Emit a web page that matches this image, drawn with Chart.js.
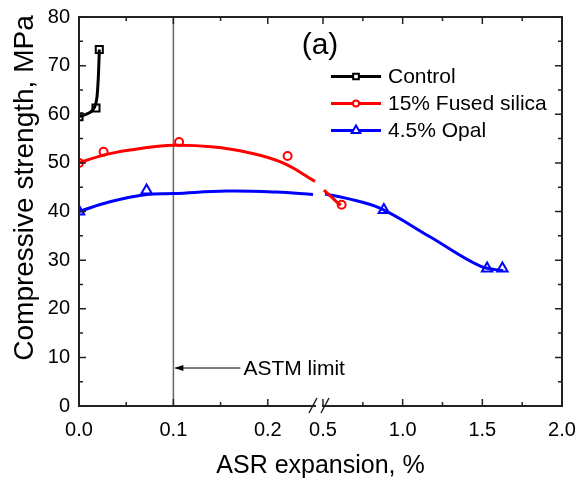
<!DOCTYPE html>
<html>
<head>
<meta charset="utf-8">
<script src="https://cdn.jsdelivr.net/npm/chart.js@4"></script>
<style>
  body { margin: 0; background: #fff; }
  #wrap { width: 577px; height: 486px; }
</style>
</head>
<body>
<div id="wrap"><canvas id="asr"></canvas></div>
<script>
const seriesNames = ['Control', '15% Fused silica', '4.5% Opal'];
const seriesColors = ['#000000', '#ff0000', '#0000ff'];
const seriesMarkers = ['rect', 'circle', 'triangle'];
const markerRadius = [5, 4, 6];

// measured points
const controlX = [0.0, 0.018, 0.0215];
const controlY = [59.5, 61.3, 73.3];
const silicaX = [0.0, 0.026, 0.106, 0.221, 0.617];
const silicaY = [50.0, 52.3, 54.3, 51.4, 41.4];
const opalX = [0.0, 0.0716, 0.882, 1.530, 1.626];
const opalY = [40.0, 44.3, 40.3, 28.3, 28.3];

// fitted curves (left part / right part of the broken axis)
const controlFitX = [0.0, 0.0063, 0.0138, 0.018, 0.020, 0.0212, 0.0215];
const controlFitY = [59.5, 59.9, 60.7, 62.3, 66.0, 71.2, 73.3];
const silicaFitLeftX = [0.0, 0.03, 0.07, 0.1, 0.14, 0.18, 0.216, 0.25];
const silicaFitLeftY = [50.0, 51.8, 53.1, 53.6, 53.3, 52.1, 50.0, 46.2];
const silicaFitRightX = [0.506, 0.546, 0.586, 0.612];
const silicaFitRightY = [44.4, 43.2, 42.0, 41.3];
const opalFitLeftX = [0.0, 0.0328, 0.0716, 0.1008, 0.1563, 0.2092, 0.248];
const opalFitLeftY = [40.0, 42.0, 43.5, 43.7, 44.2, 44.0, 43.5];
const opalFitRightX = [0.513, 0.649, 0.857, 1.171, 1.484, 1.630];
const opalFitRightY = [43.6, 42.7, 40.7, 34.8, 28.8, 27.8];

// axis
const xTickValues = [0, 0.1, 0.2, 0.5, 1.0, 1.5, 2.0];
const xTickLabels = ['0.0', '0.1', '0.2', '0.5', '1.0', '1.5', '2.0'];
const xMinorValues = [0.05, 0.15, 0.75, 1.25, 1.75];
const astmLimit = 0.1;

// broken x axis: 0-0.25 then 0.5-2.0
const breakLow = 0.25, breakHigh = 0.5;
const gapWidth = 0.0085, rightFactor = 0.1688;
function toAxis(x) {
  return x <= breakLow ? x : breakLow + gapWidth + (x - breakHigh) * rightFactor;
}
function pts(xs, ys) {
  return xs.map((x, i) => ({ x: toAxis(x), y: ys[i] }));
}
function broken(lx, ly, rx, ry) {
  return pts(lx, ly).concat([{ x: toAxis(breakLow) + gapWidth / 2, y: null }], pts(rx, ry));
}

const font = "'Liberation Sans', Arial, sans-serif";

function curve(data, i) {
  return {
    label: seriesNames[i] + ' fit',
    data: data,
    showLine: true,
    borderColor: seriesColors[i],
    borderWidth: 3,
    pointRadius: 0,
    tension: 0.4,
    spanGaps: false
  };
}
function markers(data, i) {
  return {
    label: seriesNames[i],
    data: data,
    showLine: false,
    pointStyle: seriesMarkers[i],
    pointRadius: markerRadius[i],
    pointBorderWidth: 2,
    pointBorderColor: seriesColors[i],
    pointBackgroundColor: '#ffffff'
  };
}

function drawMarker(ctx, style, r, x, y, color) {
  ctx.save();
  ctx.strokeStyle = color;
  ctx.fillStyle = '#fff';
  ctx.lineWidth = 2;
  ctx.beginPath();
  if (style === 'rect') {
    const s = r * Math.SQRT1_2;
    ctx.rect(x - s, y - s, 2 * s, 2 * s);
  } else if (style === 'circle') {
    ctx.arc(x, y, r, 0, Math.PI * 2);
  } else {
    ctx.moveTo(x, y - r);
    ctx.lineTo(x + r * 0.866, y + r * 0.5);
    ctx.lineTo(x - r * 0.866, y + r * 0.5);
    ctx.closePath();
  }
  ctx.fill();
  ctx.stroke();
  ctx.restore();
}

const decorations = {
  id: 'decorations',
  beforeDatasetsDraw(chart) {
    const { ctx, chartArea: a, scales: { x } } = chart;
    const px = x.getPixelForValue(toAxis(astmLimit));
    ctx.save();
    ctx.strokeStyle = '#666';
    ctx.lineWidth = 1.5;
    ctx.beginPath();
    ctx.moveTo(px, a.top);
    ctx.lineTo(px, a.bottom);
    ctx.stroke();
    ctx.restore();
  },
  afterDraw(chart) {
    const { ctx, chartArea: a, scales: { x, y } } = chart;
    ctx.save();
    ctx.strokeStyle = '#222';
    ctx.lineWidth = 2;
    // frame with break in bottom axis
    const gapL = x.getPixelForValue(toAxis(breakLow)) + 1;
    const gapR = x.getPixelForValue(toAxis(breakHigh)) - 1;
    ctx.beginPath();
    ctx.moveTo(gapL, a.bottom);
    ctx.lineTo(a.left, a.bottom);
    ctx.lineTo(a.left, a.top);
    ctx.lineTo(a.right, a.top);
    ctx.lineTo(a.right, a.bottom);
    ctx.lineTo(gapR, a.bottom);
    ctx.stroke();
    // break marks
    ctx.lineWidth = 1.5;
    [gapL - 3, gapR + 3].forEach(cx => {
      ctx.beginPath();
      ctx.moveTo(cx - 4, a.bottom + 7);
      ctx.lineTo(cx + 4, a.bottom - 8);
      ctx.stroke();
    });
    // inward ticks
    ctx.lineWidth = 1.5;
    ctx.beginPath();
    for (let v = 0; v <= 80; v += 5) {
      const py = y.getPixelForValue(v);
      const len = v % 10 === 0 ? 7 : 4;
      ctx.moveTo(a.left, py); ctx.lineTo(a.left + len, py);
      ctx.moveTo(a.right, py); ctx.lineTo(a.right - len, py);
    }
    xTickValues.forEach(v => {
      const p = x.getPixelForValue(toAxis(v));
      ctx.moveTo(p, a.bottom); ctx.lineTo(p, a.bottom - 7);
      ctx.moveTo(p, a.top); ctx.lineTo(p, a.top + 7);
    });
    xMinorValues.forEach(v => {
      const p = x.getPixelForValue(toAxis(v));
      ctx.moveTo(p, a.bottom); ctx.lineTo(p, a.bottom - 4);
      ctx.moveTo(p, a.top); ctx.lineTo(p, a.top + 4);
    });
    ctx.stroke();

    // ASTM annotation
    const lx = x.getPixelForValue(toAxis(astmLimit));
    const ay = a.bottom - 38;
    ctx.strokeStyle = '#000';
    ctx.fillStyle = '#000';
    ctx.lineWidth = 1;
    ctx.beginPath();
    ctx.moveTo(lx + 2, ay); ctx.lineTo(lx + 67, ay);
    ctx.stroke();
    ctx.beginPath();
    ctx.moveTo(lx + 1, ay); ctx.lineTo(lx + 10, ay - 3); ctx.lineTo(lx + 10, ay + 3);
    ctx.closePath(); ctx.fill();
    ctx.font = '21px ' + font;
    ctx.textBaseline = 'middle';
    ctx.textAlign = 'left';
    ctx.fillText('ASTM limit', lx + 70, ay + 1);

    // panel label
    ctx.font = '30px ' + font;
    ctx.textAlign = 'center';
    ctx.fillText('(a)', 320, 46);

    // legend
    const ly = [76.5, 103.5, 130.5];
    seriesNames.forEach((name, i) => {
      ctx.strokeStyle = seriesColors[i];
      ctx.lineWidth = 3;
      ctx.beginPath();
      ctx.moveTo(331, ly[i]); ctx.lineTo(381, ly[i]);
      ctx.stroke();
      drawMarker(ctx, seriesMarkers[i], markerRadius[i] - 1, 356, ly[i], seriesColors[i]);
      ctx.fillStyle = '#000';
      ctx.font = '21px ' + font;
      ctx.textAlign = 'left';
      ctx.fillText(name, 388, ly[i] + 1);
    });

    // axis titles
    ctx.font = '25px ' + font;
    ctx.textAlign = 'center';
    ctx.fillText('ASR expansion, %', (a.left + a.right) / 2, 466);
    ctx.font = '28px ' + font;
    ctx.translate(25, 188);
    ctx.rotate(-Math.PI / 2);
    ctx.fillText('Compressive strength, MPa', 0, 0);
    ctx.restore();
  }
};

new Chart(document.getElementById('asr'), {
  type: 'scatter',
  data: {
    datasets: [
      curve(pts(controlFitX, controlFitY), 0),
      curve(broken(silicaFitLeftX, silicaFitLeftY, silicaFitRightX, silicaFitRightY), 1),
      curve(broken(opalFitLeftX, opalFitLeftY, opalFitRightX, opalFitRightY), 2),
      markers(pts(controlX, controlY), 0),
      markers(pts(silicaX, silicaY), 1),
      markers(pts(opalX, opalY), 2)
    ]
  },
  options: {
    responsive: true,
    maintainAspectRatio: false,
    animation: false,
    layout: { padding: { top: 17, right: 15, left: 0, bottom: 0 } },
    plugins: { legend: { display: false }, tooltip: { enabled: false } },
    scales: {
      x: {
        type: 'linear',
        min: 0,
        max: toAxis(2.0),
        afterBuildTicks: s => { s.ticks = xTickValues.map(v => ({ value: toAxis(v) })); },
        afterFit: s => { s.height = 80; s.paddingLeft = 0; s.paddingRight = 0; },
        grid: { display: false, drawTicks: false },
        border: { display: false },
        ticks: {
          autoSkip: false,
          maxRotation: 0,
          padding: 12,
          color: '#000',
          font: { family: font, size: 20 },
          callback: (v, i) => xTickLabels[i]
        }
      },
      y: {
        min: 0,
        max: 80,
        afterFit: s => { s.width = 79; s.paddingTop = 0; s.paddingBottom = 0; },
        grid: { display: false, drawTicks: false },
        border: { display: false },
        ticks: {
          stepSize: 10,
          padding: 9,
          color: '#000',
          font: { family: font, size: 20 }
        }
      }
    }
  },
  plugins: [decorations]
});
</script>
</body>
</html>
